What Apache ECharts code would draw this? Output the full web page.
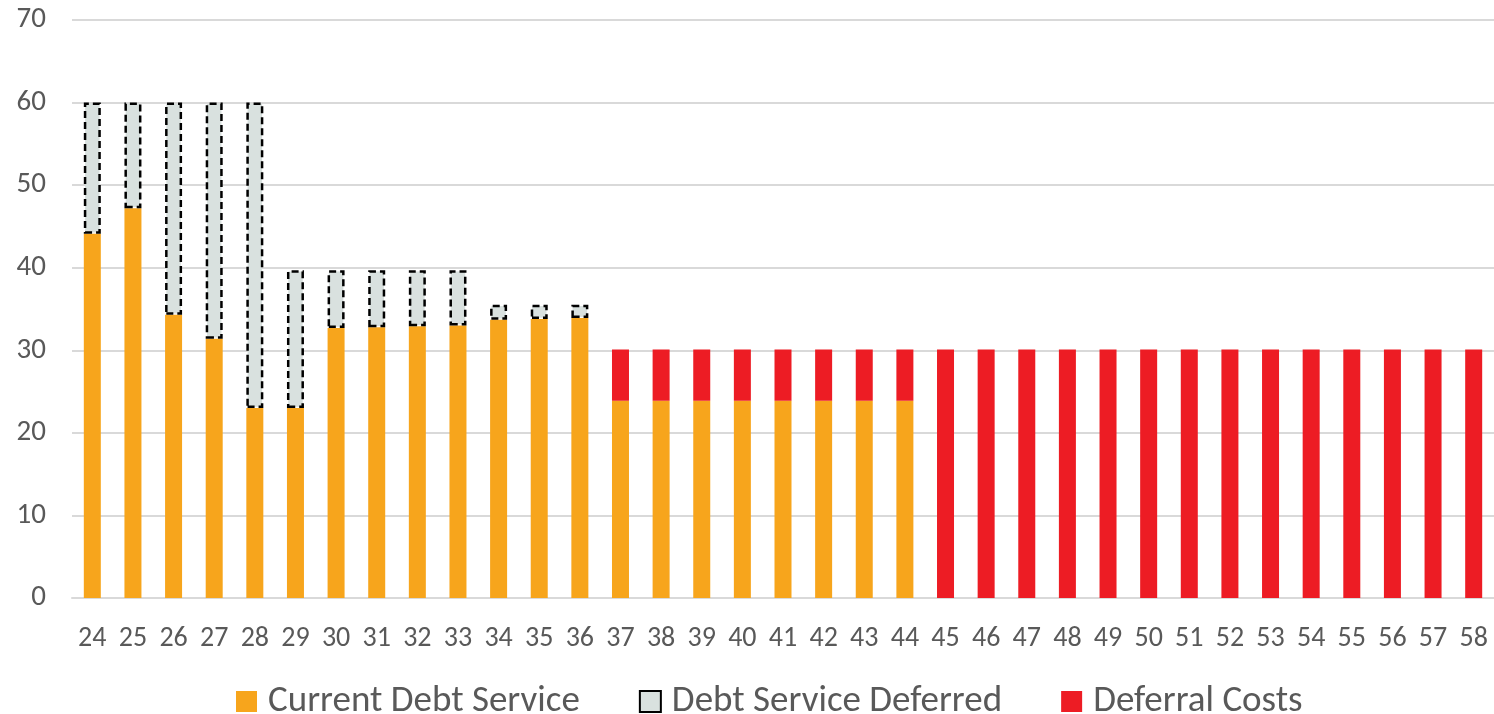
<!DOCTYPE html>
<html>
<head>
<meta charset="utf-8">
<script src="https://cdn.jsdelivr.net/npm/echarts@6/dist/echarts.min.js"></script>
<style>
  html, body { margin: 0; padding: 0; background: #fff; }
  #main { width: 1494px; height: 714px; }
</style>
</head>
<body>
<div id="main"></div>
<script>
// years on the x axis
const years = ['24','25','26','27','28','29','30','31','32','33','34','35','36','37','38','39','40','41',
  '42','43','44','45','46','47','48','49','50','51','52','53','54','55','56','57','58'];

// stacked segments
const currentDebt = [44.1, 47.2, 34.3, 31.4, 23.0, 23.0, 32.7, 32.8, 32.9, 33.0, 33.7, 33.8, 33.9,
  23.9, 23.9, 23.9, 23.9, 23.9, 23.9, 23.9, 23.9,
  '-', '-', '-', '-', '-', '-', '-', '-', '-', '-', '-', '-', '-', '-'];
const debtDeferred = [15.9, 12.8, 25.7, 28.6, 37.0, 16.7, 7.0, 6.9, 6.8, 6.7, 1.8, 1.7, 1.6,
  '-', '-', '-', '-', '-', '-', '-', '-',
  '-', '-', '-', '-', '-', '-', '-', '-', '-', '-', '-', '-', '-', '-'];
const deferralCosts = ['-', '-', '-', '-', '-', '-', '-', '-', '-', '-', '-', '-', '-',
  6.2, 6.2, 6.2, 6.2, 6.2, 6.2, 6.2, 6.2,
  30.1, 30.1, 30.1, 30.1, 30.1, 30.1, 30.1, 30.1, 30.1, 30.1, 30.1, 30.1, 30.1, 30.1];

const yTicks = { min: 0, max: 70, interval: 10 };

const font = "Carlito, 'Liberation Sans Narrow', 'Open Sans', sans-serif";
const labelColor = '#595959';

var chartDom = document.getElementById('main');
var myChart = echarts.init(chartDom);

var option = {
  animation: false,
  textStyle: { fontFamily: font },
  grid: { left: 72, top: 20, width: 1426, height: 578, containLabel: false },
  legend: {
    left: 231,
    top: 678,
    icon: 'rect',
    itemWidth: 21,
    itemHeight: 21,
    itemGap: 59,
    textStyle: { fontFamily: font, fontSize: 37, color: labelColor, padding: [0, 0, 0, 6] },
    data: ['Current Debt Service', 'Debt Service Deferred', 'Deferral Costs']
  },
  xAxis: {
    type: 'category',
    data: years,
    axisTick: { show: false },
    axisLine: { lineStyle: { color: '#d9d9d9', width: 2 } },
    axisLabel: { color: labelColor, fontSize: 28, fontFamily: font, margin: 27 }
  },
  yAxis: {
    type: 'value',
    min: yTicks.min,
    max: yTicks.max,
    interval: yTicks.interval,
    axisLine: { show: false },
    axisTick: { show: false },
    splitLine: { lineStyle: { color: '#d9d9d9', width: 2 } },
    axisLabel: { color: labelColor, fontSize: 29, fontFamily: font, margin: 26 }
  },
  series: [
    {
      name: 'Current Debt Service',
      type: 'bar',
      stack: 'total',
      barWidth: 17,
      itemStyle: { color: '#f7a51c' },
      data: currentDebt
    },
    {
      name: 'Debt Service Deferred',
      type: 'bar',
      stack: 'total',
      barWidth: 17,
      itemStyle: { color: '#d9e1df', borderColor: '#000', borderWidth: 2.5, borderType: [7, 4] },
      data: debtDeferred
    },
    {
      name: 'Deferral Costs',
      type: 'bar',
      stack: 'total',
      barWidth: 17,
      itemStyle: { color: '#ed1c24' },
      data: deferralCosts
    }
  ]
};

myChart.setOption(option);
</script>
</body>
</html>
